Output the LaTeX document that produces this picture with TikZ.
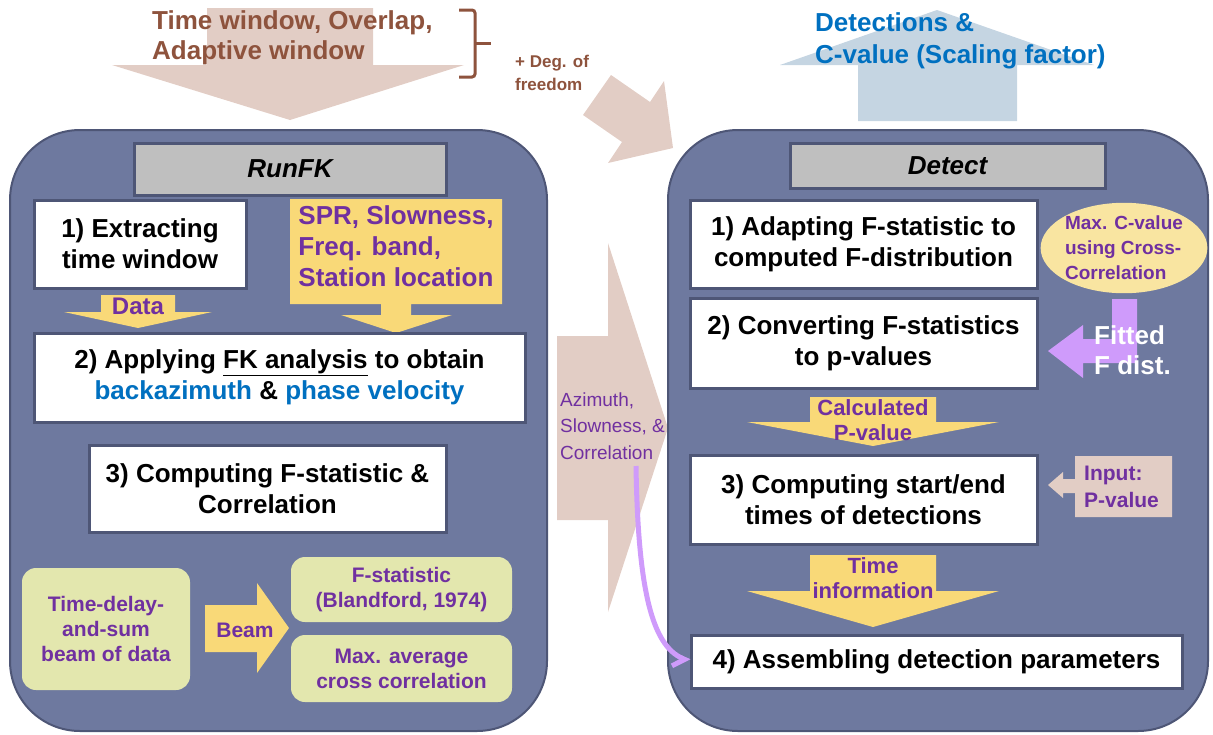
\documentclass[tikz,border=0pt]{standalone}
\usepackage{fontspec}
\setmainfont{Liberation Sans}
\usetikzlibrary{arrows.meta,shapes.geometric}

\definecolor{panelfill}{HTML}{6E799F}
\definecolor{edge}{HTML}{4E5676}
\definecolor{headgray}{HTML}{BFBFBF}
\definecolor{sand}{HTML}{F9D978}
\definecolor{beige}{HTML}{E2CDC5}
\definecolor{skyblue}{HTML}{C5D5E2}
\definecolor{blueT}{HTML}{0070C0}
\definecolor{plum}{HTML}{7030A0}
\definecolor{brownT}{HTML}{8E533D}
\definecolor{olive}{HTML}{E3E7AE}
\definecolor{cream}{HTML}{F9E5A1}
\definecolor{lilac}{HTML}{CF9BFB}

\newcommand{\bigfont}{\fontsize{26}{31}\selectfont\bfseries}
\newcommand{\smallfont}{\fontsize{21}{25}\selectfont\bfseries}
\newcommand{\azfont}{\fontsize{19}{26.5}\selectfont}

\begin{document}
\begin{tikzpicture}[x=1pt,y=-1pt,
    panel/.style={draw=edge, fill=panelfill, line width=2pt, rounded corners=70pt},
    header/.style={draw=edge, fill=headgray, line width=3pt, font=\bigfont\itshape},
    stepbox/.style={draw=edge, fill=white, line width=3pt, align=center, font=\bigfont, inner sep=0pt},
    greenbox/.style={fill=olive, rounded corners=14pt, align=center, font=\smallfont, text=plum, inner sep=0pt},
    lbl/.style={inner sep=0pt, font=\smallfont, text=plum, align=center}]
\useasboundingbox (0,0) rectangle (1213,734);

\fill[beige] (207,8) -- (373,8) -- (373,65) -- (464,65) -- (290,120) -- (112,65) -- (207,65) -- cycle;
\fill[beige] (611,75) -- (650,102) -- (664,81) -- (673,148) -- (608,163) -- (622,142) -- (583,115) -- cycle;
\fill[beige] (557,336) -- (608,336) -- (608,243) -- (668,428) -- (608,612) -- (608,520) -- (557,520) -- cycle;
\fill[skyblue] (858,121) -- (858,65) -- (780,65) -- (937,10) -- (1094,65) -- (1017,65) -- (1017,121) -- cycle;
\draw[brownT, line width=3pt, rounded corners=3pt] (459,10) -- (475,10) -- (475,77) -- (459,77);
\draw[brownT, line width=3pt] (475,43) -- (491,43);

\node[panel, minimum width=537pt, minimum height=601pt] (runfk) at (278.5,430.5) {};
\node[panel, minimum width=540pt, minimum height=601pt] (detect) at (938,430.5) {};

\begin{scope}[every node/.style={header}]
    \node[minimum width=312pt, minimum height=52pt] (hrun) at (290,169) {RunFK};
    \node[minimum width=315pt, minimum height=45pt] (hdet) at (947.5,165.5) {Detect};
\end{scope}

\fill[sand] (290,199) -- (502,199) -- (502,304) -- (411,304) -- (411,315) -- (452,315) -- (396,333) -- (341,315) -- (381,315) -- (381,304) -- (290,304) -- cycle;
\fill[sand] (101,295) -- (175,295) -- (175,312) -- (212,312) -- (138,328) -- (64,312) -- (101,312) -- cycle;
\fill[sand] (205,605) -- (257,605) -- (257,583) -- (289,628) -- (257,673) -- (257,652) -- (205,652) -- cycle;
\fill[sand] (810,397) -- (936,397) -- (936,422) -- (999,422) -- (873,446) -- (747,422) -- (810,422) -- cycle;
\fill[sand] (810,555) -- (936,555) -- (936,591) -- (999,591) -- (873,627) -- (747,591) -- (810,591) -- cycle;
\fill[lilac] (1112,299) -- (1137,299) -- (1137,363) -- (1083,363) -- (1083,378) -- (1048,351) -- (1083,325) -- (1083,339) -- (1112,339) -- cycle;
\fill[beige] (1075,456) -- (1172,456) -- (1172,517) -- (1075,517) -- (1075,493) -- (1063,493) -- (1063,498) -- (1048,485) -- (1063,472) -- (1063,479) -- (1075,479) -- cycle;

\begin{scope}[every node/.style={stepbox}]
    \node[minimum width=212pt, minimum height=88pt] (s1) at (140,244) {1) Extracting\\time window};
    \node[minimum width=491pt, minimum height=89pt] (s2) at (279.5,377.5) {2) Applying \underline{FK analysis} to obtain\\{\color{blueT}backazimuth} \& {\color{blueT}phase velocity}};
    \node[minimum width=357pt, minimum height=87pt] (s3) at (267.5,488.5) {3) Computing F-statistic \&\\Correlation};
    \node[minimum width=347pt, minimum height=88pt] (r1) at (863.5,244) {1) Adapting F-statistic to\\computed F-distribution};
    \node[minimum width=347pt, minimum height=90pt] (r2) at (863.5,343) {2) Converting F-statistics\\to p-values};
    \node[minimum width=347pt, minimum height=89pt] (r3) at (863.5,499.5) {3) Computing start/end\\times of detections};
    \node[minimum width=491pt, minimum height=53pt] (r4) at (936.5,661.5) {4) Assembling detection parameters};
\end{scope}

\begin{scope}[every node/.style={greenbox}]
    \node[minimum width=168pt, minimum height=122pt] (delay) at (106,629) {Time-delay-\\and-sum\\beam of data};
    \node[minimum width=221pt, minimum height=65pt] (fstat) at (401.5,589.5) {F-statistic\\(Blandford, 1974)};
    \node[minimum width=221pt, minimum height=67pt] (xcorr) at (401.5,668.5) {Max. average\\cross correlation};
\end{scope}

\node[ellipse, fill=cream, minimum width=160pt, minimum height=88pt, inner sep=0pt, align=left,
    font=\fontsize{19}{25}\selectfont\bfseries, text=plum] (cval) at (1124,248) {Max. C-value\\using Cross-\\Correlation};

\node[lbl, font=\bigfont, align=left] (spr) at (396,246) {SPR, Slowness,\\Freq. band,\\Station location};
\node[lbl, font=\fontsize{24}{28}\selectfont\bfseries] (data) at (138,306) {Data};
\node[lbl] (beam) at (245,630) {Beam};
\node[lbl, font=\fontsize{22}{25}\selectfont\bfseries] (pval) at (873,420) {Calculated\\P-value};
\node[lbl, font=\fontsize{22}{25}\selectfont\bfseries] (tinfo) at (873,578) {Time\\information};
\node[lbl, anchor=west, align=left, font=\fontsize{21}{27}\selectfont\bfseries] (pin) at (1084,487) {Input:\\P-value};
\node[lbl, anchor=west, align=left, text=white, font=\fontsize{26}{30}\selectfont\bfseries] (fit) at (1094,350) {Fitted\\F dist.};
\node[lbl, anchor=west, align=left, font=\azfont] (azim) at (560,426) {Azimuth,\\Slowness, \&\\Correlation};
\node[lbl, anchor=west, align=left, font=\fontsize{26}{30}\selectfont\bfseries, text=brownT] (twin) at (152,38) {Time window, Overlap,\\Adaptive window};
\node[lbl, anchor=west, align=left, font=\fontsize{17}{23}\selectfont\bfseries, text=brownT] (dof) at (515,73) {+ Deg. of\\freedom};
\node[lbl, anchor=west, align=left, font=\fontsize{26}{32}\selectfont\bfseries, text=blueT] (out) at (815,41) {Detections \&\\C-value (Scaling factor)};

\coordinate (azbot) at (636,466);
\draw[lilac, line width=5pt, -{Straight Barb[harpoon, swap, length=9pt, width=22pt]}] (azbot) .. controls (638,590) and (652,645) .. (r4.west);
\end{tikzpicture}
\end{document}
